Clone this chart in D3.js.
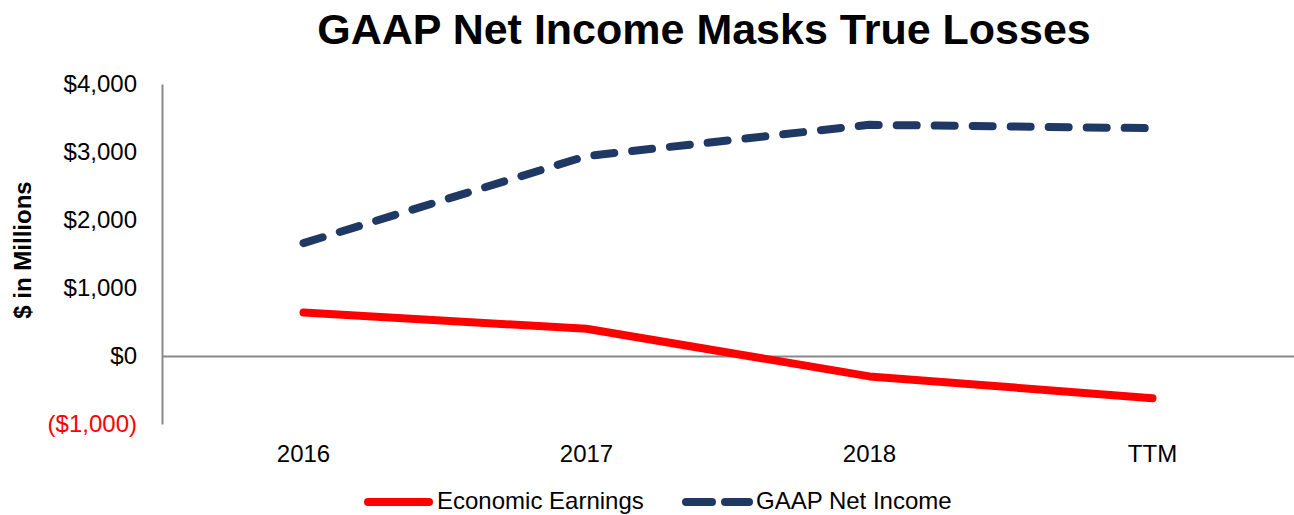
<!DOCTYPE html>
<html>
<head>
<meta charset="utf-8">
<script src="https://cdn.jsdelivr.net/npm/d3@7"></script>
<style>
  body { margin: 0; background: #fff; }
  svg { display: block; font-family: "Liberation Sans", Arial, sans-serif; }
</style>
</head>
<body>
<svg id="chart" width="1294" height="515"></svg>
<script>
const categories = ["2016", "2017", "2018", "TTM"];
const economicEarnings = [640, 400, -300, -620];
const gaapNetIncome = [1660, 2940, 3400, 3350];
const yTicks = [-1000, 0, 1000, 2000, 3000, 4000];

const WIDTH = 1294;
const HEIGHT = 515;
const MARGIN = { top: 84, right: 0, bottom: 91, left: 162 };
const RED = "#ff0000";
const NAVY = "#1f3864";
const AXIS_GRAY = "#898989";
const LINE_WIDTH = 8;
const FONT_SIZE = 24;

const svg = d3.select("#chart");
const width = WIDTH - MARGIN.left - MARGIN.right;
const height = HEIGHT - MARGIN.top - MARGIN.bottom;

const x = d3.scaleBand().domain(categories).range([0, width]);
const y = d3.scaleLinear().domain([-1000, 4000]).range([height, 0]);

const fmt = v => v < 0
  ? `($${d3.format(",")(-v)})`
  : `$${d3.format(",")(v)}`;

// Title
svg.append("text")
  .text("GAAP Net Income Masks True Losses")
  .attr("x", 704)
  .attr("y", 44)
  .attr("text-anchor", "middle")
  .attr("font-weight", "bold")
  .attr("font-size", 43)
  .attr("fill", "#000");

const g = svg.append("g")
  .attr("transform", `translate(${MARGIN.left}, ${MARGIN.top})`);

// Y axis
const yAxis = g.append("g")
  .call(d3.axisLeft(y).tickValues(yTicks).tickSize(0).tickPadding(25).tickFormat(fmt));
yAxis.select(".domain").attr("stroke", AXIS_GRAY).attr("stroke-width", 2);
yAxis.selectAll("text")
  .attr("font-size", FONT_SIZE)
  .attr("font-family", "Liberation Sans, Arial, sans-serif")
  .attr("fill", d => d < 0 ? RED : "#000");

// Zero line with category labels
const xAxis = g.append("g")
  .attr("transform", `translate(0, ${y(0)})`)
  .call(d3.axisBottom(x).tickSize(0).tickPadding(0));
xAxis.select(".domain").attr("stroke", AXIS_GRAY).attr("stroke-width", 2);
xAxis.selectAll(".tick text")
  .attr("y", y(-1000) - y(0) + 38)
  .attr("dy", 0)
  .attr("font-size", FONT_SIZE)
  .attr("font-family", "Liberation Sans, Arial, sans-serif")
  .attr("fill", "#000");

// Axis title
svg.append("text")
  .text("$ in Millions")
  .attr("transform", `translate(31, 250) rotate(-90)`)
  .attr("text-anchor", "middle")
  .attr("font-weight", "bold")
  .attr("font-size", FONT_SIZE)
  .attr("fill", "#000");

// Lines
const line = d3.line()
  .x((_, i) => x(categories[i]) + x.bandwidth() / 2)
  .y(d => y(d));

g.append("path")
  .datum(gaapNetIncome)
  .attr("d", line)
  .attr("fill", "none")
  .attr("stroke", NAVY)
  .attr("stroke-width", LINE_WIDTH)
  .attr("stroke-linecap", "round")
  .attr("stroke-linejoin", "round")
  .attr("stroke-dasharray", "20 18");

g.append("path")
  .datum(economicEarnings)
  .attr("d", line)
  .attr("fill", "none")
  .attr("stroke", RED)
  .attr("stroke-width", LINE_WIDTH)
  .attr("stroke-linecap", "round")
  .attr("stroke-linejoin", "round");

// Legend
const legend = svg.append("g").attr("transform", "translate(0, 502)");
const items = [
  { name: "Economic Earnings", color: RED, dash: null, x: 368, len: 61, tx: 437 },
  { name: "GAAP Net Income", color: NAVY, dash: "26 13", x: 686, len: 63, tx: 756 }
];
items.forEach(it => {
  legend.append("line")
    .attr("x1", it.x).attr("x2", it.x + it.len)
    .attr("y1", 0).attr("y2", 0)
    .attr("stroke", it.color)
    .attr("stroke-width", LINE_WIDTH)
    .attr("stroke-linecap", "round")
    .attr("stroke-dasharray", it.dash);
  legend.append("text")
    .text(it.name)
    .attr("x", it.tx)
    .attr("y", 7)
    .attr("font-size", FONT_SIZE)
    .attr("fill", "#000");
});
</script>
</body>
</html>
